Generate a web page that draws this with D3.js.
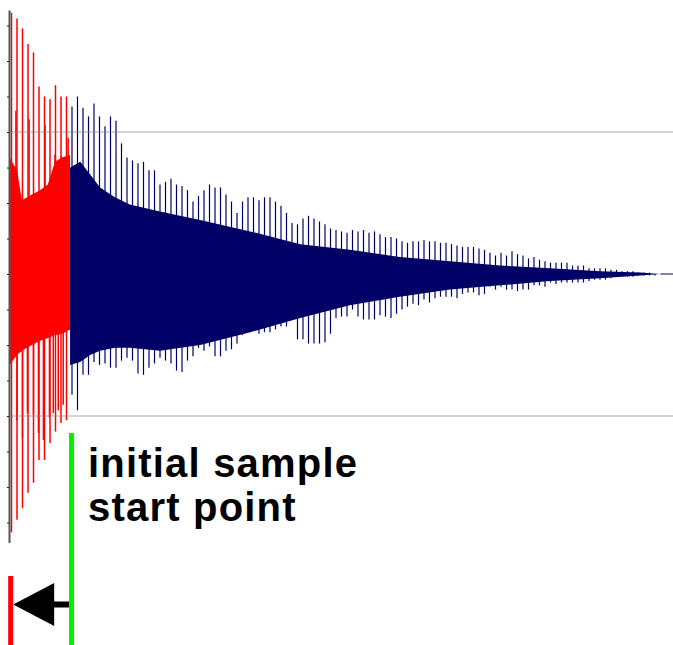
<!DOCTYPE html>
<html>
<head>
<meta charset="utf-8">
<script src="https://cdn.jsdelivr.net/npm/d3@7"></script>
<style>
  body { margin: 0; background: #fff; }
  svg { display: block; }
  .label { font-family: "Liberation Sans", Arial, sans-serif; font-weight: bold; font-size: 40px; letter-spacing: 1.2px; }
</style>
</head>
<body>
<svg id="chart" width="673" height="645"></svg>
<script>
// waveform peaks, one per cycle (amplitude, full scale = 1)
const spikeUp = [
  1.84, 1.80, 1.73, 1.62, 1.56, 1.32, 1.25, 1.23, 1.33, 1.25, 1.25,
  1.18, 1.25, 1.17, 1.11, 1.20, 1.11, 1.04, 1.11, 1.08, 0.92,
  0.82, 0.80, 0.78, 0.79, 0.73, 0.73, 0.63, 0.65, 0.67, 0.63,
  0.62, 0.59, 0.51, 0.55, 0.59, 0.63, 0.61, 0.61, 0.56, 0.51,
  0.43, 0.51, 0.54, 0.54, 0.52, 0.54, 0.54, 0.51, 0.48, 0.43,
  0.36, 0.35, 0.39, 0.41, 0.39, 0.37, 0.35, 0.32, 0.31, 0.30,
  0.29, 0.31, 0.30, 0.31, 0.29, 0.30, 0.28, 0.26, 0.26, 0.25,
  0.23, 0.22, 0.23, 0.23, 0.24, 0.23, 0.23, 0.22, 0.22, 0.21,
  0.20, 0.19, 0.19, 0.19, 0.18, 0.17, 0.15, 0.13, 0.15, 0.13,
  0.16, 0.14, 0.13, 0.11, 0.12, 0.10, 0.09, 0.08, 0.08, 0.08,
  0.08, 0.06, 0.06, 0.06, 0.04, 0.04, 0.04, 0.04, 0.03, 0.03,
  0.02, 0.02, 0.02, 0.01, 0.01, 0.01, 0.00
];
const spikeDown = [
  -1.82, -1.73, -1.65, -1.54, -1.47, -1.31, -1.31, -1.19, -1.11, -1.05, -1.03,
  -0.85, -0.96, -0.71, -0.71, -0.62, -0.64, -0.63, -0.66, -0.66, -0.61,
  -0.59, -0.61, -0.70, -0.71, -0.66, -0.63, -0.59, -0.61, -0.63, -0.68,
  -0.69, -0.61, -0.58, -0.52, -0.54, -0.51, -0.58, -0.58, -0.54, -0.53,
  -0.49, -0.43, -0.39, -0.38, -0.42, -0.41, -0.41, -0.39, -0.37, -0.37,
  -0.31, -0.46, -0.46, -0.49, -0.49, -0.49, -0.48, -0.42, -0.31, -0.30,
  -0.30, -0.25, -0.30, -0.32, -0.32, -0.32, -0.29, -0.30, -0.31, -0.28,
  -0.25, -0.23, -0.21, -0.22, -0.18, -0.20, -0.17, -0.16, -0.16, -0.16,
  -0.17, -0.14, -0.13, -0.13, -0.15, -0.14, -0.09, -0.11, -0.09, -0.11,
  -0.11, -0.12, -0.11, -0.11, -0.08, -0.08, -0.09, -0.06, -0.07, -0.06,
  -0.06, -0.06, -0.06, -0.06, -0.05, -0.04, -0.04, -0.04, -0.03, -0.02,
  -0.02, -0.02, -0.02, -0.01, -0.01, -0.01, -0.01
];

// smaller in-between peaks of the cut-off part
const secUpCycle = [0.8, 3.2, 6.1, 7.9, 9.0, 10.3];
const secUp = [1.15, 1.09, 1.05, 0.84, 0.83, 0.96];
const secDownCycle = [1.0, 2.0, 2.9, 4.0, 4.9, 5.8, 6.9, 7.6, 8.5, 9.4];
const secDown = [-1.03, -1.15, -0.98, -0.99, -1.12, -1.17, -1.01, -0.98, -0.96, -0.92];

// dense body of the signal
const redCoreCycle = [-0.36, 1.0, 1.9, 3.7, 5.2, 6.6, 7.9, 9.2, 10.65];
const redCoreHi = [0.82, 0.73, 0.52, 0.56, 0.59, 0.63, 0.79, 0.82, 0.84];
const redCoreLo = [-0.64, -0.57, -0.54, -0.50, -0.47, -0.45, -0.43, -0.42, -0.39];
const navyCoreCycle = [10.65, 12.5, 14.3, 16.1, 18.8, 21.5, 27, 34.3, 43.4, 52.5, 61.5, 70.6, 79.7, 88.8, 97.9, 107, 114.3, 118];
const navyCoreHi = [0.75, 0.79, 0.70, 0.61, 0.54, 0.49, 0.44, 0.38, 0.30, 0.21, 0.17, 0.12, 0.09, 0.06, 0.04, 0.02, 0.01, 0];
const navyCoreLo = [-0.64, -0.62, -0.57, -0.54, -0.52, -0.52, -0.54, -0.50, -0.41, -0.31, -0.22, -0.16, -0.11, -0.08, -0.05, -0.03, -0.01, 0];

const newStart = -0.15;      // where the sample now begins
const initialStart = 10.65;  // original start point
const tailEnd = 120.5;
const gridLevels = [1, -1];
const axisTicks = d3.range(-1.75, 1.76, 0.25);
const axisExtent = [-1.89, 1.86];

const svg = d3.select("#chart");
const x = d3.scaleLinear().domain([0, 118]).range([11.5, 660.5]);
const y = d3.scaleLinear().domain([-1, 1]).range([416, 132]);

const red = "#ff0000";
const navy = "#000066";

// core fill
const area = d3.area().x(d => x(d.c)).y0(d => y(d.lo)).y1(d => y(d.hi));
const redCore = redCoreCycle.map((c, i) => ({ c, hi: redCoreHi[i], lo: redCoreLo[i] }));
const navyCore = navyCoreCycle.map((c, i) => ({ c, hi: navyCoreHi[i], lo: navyCoreLo[i] }));

svg.append("path").attr("d", area(redCore)).attr("fill", red);
svg.append("path").attr("d", area(navyCore)).attr("fill", navy);

// tail after the sound dies
svg.append("line")
  .attr("x1", x(118)).attr("x2", x(tailEnd))
  .attr("y1", y(0)).attr("y2", y(0))
  .attr("stroke", navy).attr("stroke-width", 1);

// peaks
const spikes = spikeUp.map((v, i) => ({ c: i, v }))
  .concat(spikeDown.map((v, i) => ({ c: i, v })))
  .concat(secUpCycle.map((c, i) => ({ c, v: secUp[i] })))
  .concat(secDownCycle.map((c, i) => ({ c, v: secDown[i] })));

svg.append("g").selectAll("line")
  .data(spikes)
  .join("line")
  .attr("x1", d => x(d.c)).attr("x2", d => x(d.c))
  .attr("y1", y(0)).attr("y2", d => y(d.v))
  .attr("stroke", d => d.c < initialStart ? red : navy)
  .attr("stroke-width", d => d.c < initialStart ? 1.5 : 1.2);

// grid lines on top
svg.append("g").selectAll("line")
  .data(gridLevels)
  .join("line")
  .attr("x1", 10).attr("x2", 673)
  .attr("y1", d => y(d)).attr("y2", d => y(d))
  .attr("stroke", "#808080").attr("stroke-opacity", 0.35).attr("stroke-width", 2);

// left axis, ticks only
const yAxisScale = y.copy().domain(axisExtent).range([y(axisExtent[0]), y(axisExtent[1])]);
const axis = svg.append("g")
  .attr("transform", "translate(9,0)")
  .call(d3.axisLeft(yAxisScale).tickValues(axisTicks).tickSize(2).tickSizeOuter(0).tickFormat(""));
axis.select(".domain").attr("stroke", "#555").attr("stroke-width", 2);
axis.selectAll(".tick line").attr("stroke", "#222");

// markers
const x0 = x(newStart);
const x1 = x(initialStart);
svg.append("rect").attr("x", x0 - 2.5).attr("y", 576).attr("width", 5).attr("height", 69).attr("fill", red);
svg.append("rect").attr("x", x1 - 1).attr("y", 433).attr("width", 5).attr("height", 212).attr("fill", "#00f000");

const arrowY = 604.5;
svg.append("rect").attr("x", x0 + 43).attr("y", arrowY - 3).attr("width", x1 - 1 - (x0 + 43)).attr("height", 6).attr("fill", "#000");
svg.append("path")
  .attr("d", d3.line()([[x0 + 2.5, arrowY], [x0 + 43.5, arrowY - 21.5], [x0 + 43.5, arrowY + 21.5]]) + "Z")
  .attr("fill", "#000");

const label = svg.append("text").attr("class", "label").attr("x", 88).attr("y", 477);
label.append("tspan").attr("x", 88).text("initial sample");
label.append("tspan").attr("x", 88).attr("dy", 44).text("start point");
</script>
</body>
</html>
